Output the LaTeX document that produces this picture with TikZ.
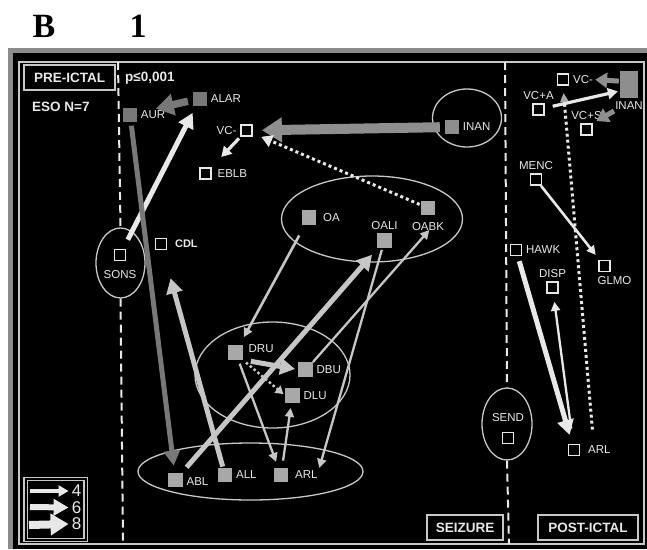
\documentclass[tikz,border=0pt]{standalone}
\usepackage{fontspec}
\setmainfont{Liberation Sans}
\newfontfamily\panelserif{Liberation Serif}
\usepackage{tikz}
\usetikzlibrary{shapes.geometric,arrows.meta,calc}
\definecolor{Frame}{HTML}{8C8C8C}
\definecolor{Rule}{HTML}{C8C8C8}
\definecolor{Ink}{HTML}{E8E8E8}
\definecolor{Pale}{HTML}{C6C6C6}
\definecolor{Cell}{HTML}{A8A8A8}
\definecolor{Mid}{HTML}{8E8E8E}
\definecolor{Dark}{HTML}{787878}
\tikzset{
    % squares for the scored items
    openbox/.style={
        rectangle,
        draw=Ink,
        fill=black,
        line width=1.8pt,
        minimum size=11pt,
        inner sep=0pt
    },
    fillbox/.style={
        rectangle,
        fill=Cell,
        minimum size=14.5pt,
        inner sep=0pt
    },
    darkbox/.style={
        fillbox,
        fill=Dark,
        minimum size=14pt
    },
    midbox/.style={
        fillbox,
        fill=Mid,
        minimum size=14pt
    },
    tag/.style={
        text=Ink,
        font=\fontsize{11.5}{12}\selectfont,
        inner sep=1pt
    },
    boldtag/.style={
        tag,
        font=\fontsize{11}{12}\selectfont\bfseries
    },
    groupring/.style={
        ellipse,
        draw=Rule,
        line width=1.3pt,
        inner sep=0pt
    },
    phasebox/.style={
        rectangle,
        draw=Rule,
        line width=1.8pt,
        text=Ink,
        font=\fontsize{13.5}{14}\selectfont\bfseries,
        minimum height=25pt,
        inner sep=0pt
    },
    headtext/.style={
        text=Ink,
        font=\fontsize{13.5}{14}\selectfont\bfseries,
        inner sep=0pt
    },
    divider/.style={
        draw=Ink,
        line width=2pt,
        dash pattern=on 8pt off 5pt
    },
    w2/.style={-{Triangle[length=9pt,width=9pt]}, line width=2.3pt},
    w4/.style={-{Triangle[length=10pt,width=11pt]}, line width=3.2pt},
    w6/.style={-{Triangle[length=15pt,width=16pt]}, line width=5pt},
    w8/.style={-{Triangle[length=18pt,width=21pt]}, line width=7.5pt},
    w10/.style={-{Triangle[length=20pt,width=24pt]}, line width=10pt},
    grayarrow/.style={
        -{Triangle[length=12pt,width=15pt]},
        line width=5pt,
        draw=Mid
    },
    dotarrow/.style={
        -{Triangle[length=11pt,width=12pt]},
        line width=3pt,
        dash pattern=on 3pt off 3pt,
        draw=Ink
    },
    smalldotarrow/.style={
        -{Triangle[length=8pt,width=9pt]},
        line width=2.5pt,
        dash pattern=on 2.5pt off 2.5pt,
        draw=Pale
    },
    graytipdots/.style={
        -{Triangle[length=9pt,width=8pt,color=Cell]},
        line width=3pt,
        dash pattern=on 3pt off 3pt,
        draw=Ink
    },
    legendnum/.style={
        text=Ink,
        font=\fontsize{17}{17}\selectfont,
        inner sep=3pt
    }
}

\begin{document}
\begin{tikzpicture}[x=1pt, y=-1pt, label distance=2.5pt]
\useasboundingbox (0,0) rectangle (647,549);
\fill[Frame] (8,48) rectangle (647,549);
\fill[black] (13,53) rectangle (647,549);
\draw[Rule, line width=1.2pt] (19,62) rectangle (644,544);

\node[font=\panelserif\bfseries\fontsize{34}{34}\selectfont] (figB) at (44,26) {B};
\node[font=\panelserif\bfseries\fontsize{34}{34}\selectfont] (fig1) at (138,26) {1};

% groups
\node[groupring, minimum width=69pt, minimum height=58pt] (ringINAN) at (467,118) {};
\node[groupring, minimum width=49pt, minimum height=70pt] (ringSONS) at (120.5,263) {};
\node[groupring, minimum width=181pt, minimum height=86pt] (ringO) at (372,219) {};
\node[groupring, minimum width=155pt, minimum height=106pt] (ringD) at (272.5,375) {};
\node[groupring, minimum width=225pt, minimum height=57pt] (ringA) at (250.5,471.5) {};
\node[groupring, minimum width=50pt, minimum height=72pt] (ringSEND) at (507,424) {};

\coordinate (divLtop) at (118,62);
\coordinate (divLbot) at (123,544);
\coordinate (divRtop) at (505,62);
\coordinate (divRbot) at (509,544);
\draw[divider] (divLtop) -- (ringSONS.north);
\draw[divider] (ringSONS.south) -- (divLbot);
\draw[divider] (divRtop) -- (ringSEND.north);
\draw[divider] (ringSEND.south) -- (divRbot);

\node[phasebox, minimum width=91pt] (pre) at (69.5,77.5) {PRE-ICTAL};
\node[headtext, anchor=base west] (eso) at (32,111) {ESO N=7};
\node[headtext, anchor=base west] (pval) at (125,81) {p≤0,001};
\node[phasebox, minimum width=76pt] (seizure) at (465,527.5) {SEIZURE};
\node[phasebox, minimum width=100pt] (post) at (588,527.5) {POST-ICTAL};

% pre-ictal
\node[darkbox, label={[tag]right:AUR}] (AUR) at (130,114.5) {};
\node[darkbox, label={[tag]right:ALAR}] (ALAR) at (200,98.5) {};
\node[openbox, label={[tag]left:VC-}] (VCn) at (246.5,130.5) {};
\node[openbox, label={[tag, xshift=2pt]right:EBLB}] (EBLB) at (205.5,173.5) {};
\node[midbox, label={[tag]right:INAN}] (INAN) at (452,127) {};
\node[openbox, label={[tag, yshift=-5pt]below:SONS}] (SONS) at (120,255) {};
\node[openbox, label={[boldtag, xshift=4pt]right:CDL}] (CDL) at (161,244) {};

% seizure
\node[fillbox, label={[tag, xshift=3pt]right:OA}] (OA) at (309,217.5) {};
\node[fillbox, label={[tag]above:OALI}] (OALI) at (384.5,240.5) {};
\node[fillbox, label={[tag, yshift=-3pt, name=OABKl]below:OABK}] (OABK) at (428,208) {};
\node[fillbox, label={[tag, xshift=2pt, yshift=4pt]right:DRU}] (DRU) at (235.5,352.5) {};
\node[fillbox, label={[tag]right:DBU}] (DBU) at (305.5,369.5) {};
\node[fillbox, label={[tag]right:DLU}] (DLU) at (292.5,395.5) {};
\node[fillbox, label={[tag, yshift=-2pt]right:ABL}] (ABL) at (175.5,480) {};
\node[fillbox, label={[tag]right:ALL}] (ALL) at (225,475) {};
\node[fillbox, label={[tag, xshift=3pt, name=ARLl]right:ARL}] (ARL) at (281,475) {};
\node[openbox, label={[tag, yshift=6pt]above:SEND}] (SEND) at (508,438) {};

% post-ictal
\node[openbox, label={[tag, name=VCpl]right:VC-}] (VCp) at (563,79.5) {};
\node[rectangle, fill=Mid, minimum width=18pt, minimum height=27pt, inner sep=0pt,
      label={[tag, name=INANpl]below:INAN}] (INANp) at (629,84.5) {};
\node[openbox, label={[tag]above:VC+A}] (VCA) at (538.5,109.5) {};
\node[openbox, label={[tag]above:VC+S}] (VCS) at (586.5,129.5) {};
\node[openbox, label={[tag]above:MENC}] (MENC) at (536,179.5) {};
\node[openbox, label={[tag, xshift=10pt]below:GLMO}] (GLMO) at (604.5,266) {};
\node[openbox, label={[tag]right:HAWK}] (HAWK) at (516,250) {};
\node[openbox, label={[tag]above:DISP}] (DISP) at (552.5,287.5) {};
\node[openbox, label={[tag, xshift=4pt]right:ARL}] (ARLp) at (574,450) {};

% connections, pre-ictal
\draw[w8, Dark, shorten <=5pt, shorten >=19pt] (ALAR) -- (AUR);
\draw[w10, Mid, shorten <=5pt, shorten >=9pt] (INAN) -- (VCn);
\draw[dotarrow, shorten <=1pt, shorten >=9pt] (OABK) -- (VCn);
\draw[w4, Ink, shorten <=2pt, shorten >=14pt] (VCn) -- (EBLB);
\draw[w6, Ink, shorten <=10pt, shorten >=8pt] (SONS) -- (ALAR);
\draw[w6, Dark, shorten <=4pt, shorten >=7pt] (AUR) -- (ABL);
\draw[w6, Pale, shorten <=1pt, shorten >=29pt] (ALL) -- (CDL);

% connections, seizure
\draw[w2, Pale, line width=2.6pt, shorten <=12pt, shorten >=9pt] (OA) -- (DRU);
\draw[w6, Pale, shorten <=7pt, shorten >=9pt] (ABL) -- (OALI);
\draw[w2, Pale, shorten <=2pt, shorten >=2pt] (OALI) -- (ARLl.north east);
\draw[w2, Pale, shorten >=-2pt] (DBU.north east) -- (OABKl.south);
\draw[w6, Pale, shorten <=8pt, shorten >=3pt] (DRU.south east) -- (DBU.west);
\draw[smalldotarrow, shorten <=4pt, shorten >=2pt] (DRU.south east) -- (DLU.west);
\draw[w2, Pale, shorten <=4pt, shorten >=6pt] (DRU) -- (ARL);
\draw[w2, Pale, shorten <=7pt, shorten >=5pt] (ARL) -- (DLU);

% connections, post-ictal
\draw[w6, Ink, shorten <=5pt, shorten >=9pt] (HAWK) -- (ARLp);
\draw[w2, Ink, shorten <=15pt, shorten >=8pt] (ARLp) -- (DISP);
\draw[w2, Ink, line width=2.6pt, shorten >=6pt] (MENC) -- (GLMO);
\draw[graytipdots, shorten >=7pt] ([shift={(12pt,14pt)}]ARLp.north east) -- (VCp.south);
\draw[w4, Ink, shorten <=8pt, shorten >=2pt] (VCA) -- (INANp.215);
\draw[grayarrow, shorten <=1pt, shorten >=1pt] (INANp.160) -- (VCpl.east);
\draw[grayarrow, shorten >=4pt] (INANpl.south west) -- (VCS.north east);

% key
\node[draw=Rule, double=black, double distance=2.5pt, line width=1.2pt,
      minimum width=60pt, minimum height=61pt] (legend) at (55.75,509.5) {};
\node[legendnum] (n4) at (76.5,491) {4};
\node[legendnum] (n6) at (76.5,507.5) {6};
\node[legendnum] (n8) at (76.5,524) {8};
\coordinate (k4) at (30,491);
\coordinate (k6) at (30,507);
\coordinate (k8) at (29,525);
\draw[w4, Ink] (k4) -- (n4.west);
\draw[w6, Ink, line width=6pt] (k6) -- (n6.west);
\draw[w8, Ink, line width=8pt] (k8) -- (n8.west);
\end{tikzpicture}
\end{document}
